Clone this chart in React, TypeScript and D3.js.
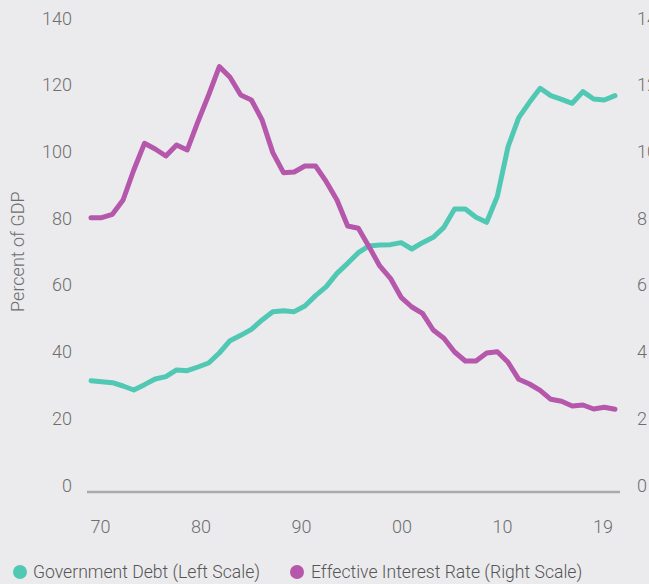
import React from "react";
import * as d3 from "d3";

const years: number[] = d3.range(1970, 2020);

const governmentDebt: number[] = [
  31.3, 31.0, 30.7, 29.7, 28.5, 30.1, 31.8, 32.5, 34.5, 34.3,
  35.4, 36.6, 39.6, 43.3, 44.9, 46.7, 49.5, 52.0, 52.3, 52.0,
  53.7, 56.8, 59.5, 63.5, 66.5, 69.7, 71.7, 72.0, 72.1, 72.7,
  70.8, 72.7, 74.3, 77.3, 82.8, 82.8, 80.3, 78.8, 86.6, 101.5,
  110.2, 114.8, 119.0, 116.8, 115.7, 114.5, 118.0, 115.8, 115.5, 116.8,
];

const effectiveInterestRate: number[] = [
  8.02, 8.02, 8.12, 8.55, 9.45, 10.25, 10.08, 9.87, 10.2, 10.05,
  10.9, 11.7, 12.55, 12.23, 11.7, 11.55, 10.95, 9.97, 9.37, 9.39,
  9.57, 9.57, 9.1, 8.55, 7.77, 7.7, 7.15, 6.57, 6.2, 5.63,
  5.34, 5.15, 4.65, 4.4, 3.99, 3.72, 3.72, 3.96, 4.0, 3.68,
  3.17, 3.03, 2.84, 2.57, 2.51, 2.37, 2.4, 2.28, 2.33, 2.27,
];

const leftTicks: number[] = [0, 20, 40, 60, 80, 100, 120, 140];
const rightTicks: number[] = [0, 2, 4, 6, 8, 10, 12, 14];
const xLabels: string[] = ["70", "80", "90", "00", "10", "19"];

const seriesNames: string[] = [
  "Government Debt (Left Scale)",
  "Effective Interest Rate (Right Scale)",
];
const colors: string[] = ["#50c8b4", "#b557ab"];

const W = 649;
const H = 584;
const FONT = "Roboto, 'DejaVu Sans', sans-serif";
const TEXT = "#6e6e6e";

export default function App() {
  const x = d3.scaleLinear().domain([1970, 2019]).range([91, 615]);
  const yL = d3.scaleLinear().domain([0, 140]).range([485, 18.3]);
  const yR = d3.scaleLinear().domain([0, 14]).range([485, 18.3]);
  const xl = d3.scalePoint<string>().domain(xLabels).range([100.5, 603]);

  const debtLine = d3
    .line<number>()
    .x((_, i) => x(years[i]))
    .y((d) => yL(d));
  const rateLine = d3
    .line<number>()
    .x((_, i) => x(years[i]))
    .y((d) => yR(d));

  return (
    <svg
      width={W}
      height={H}
      style={{ position: "absolute", left: 0, top: 0, background: "#ebebed" }}
      fontFamily={FONT}
    >
      <rect x={0} y={0} width={W} height={H} fill="#ebebed" />
      {leftTicks.map((t) => (
        <text
          key={"l" + t}
          x={72}
          y={yL(t)}
          textAnchor="end"
          dominantBaseline="central"
          fontSize={18}
          fontWeight={300}
          fill={TEXT}
        >
          {t}
        </text>
      ))}
      {rightTicks.map((t) => (
        <text
          key={"r" + t}
          x={637}
          y={yR(t)}
          textAnchor="start"
          dominantBaseline="central"
          fontSize={18}
          fontWeight={300}
          fill={TEXT}
        >
          {t}
        </text>
      ))}
      <text
        transform={`translate(17,${(yL(60) + yL(80)) / 2}) rotate(-90)`}
        textAnchor="middle"
        dominantBaseline="central"
        fontSize={18}
        fontWeight={300}
        fill={TEXT}
      >
        Percent of GDP
      </text>
      <line
        x1={x(1970) - 4}
        x2={x(2019) + 5}
        y1={yL(0) + 7}
        y2={yL(0) + 7}
        stroke="#aaaaaa"
        strokeWidth={2.5}
      />
      {xLabels.map((l) => (
        <text
          key={"x" + l}
          x={xl(l)}
          y={526}
          textAnchor="middle"
          dominantBaseline="central"
          fontSize={18}
          fontWeight={300}
          fill={TEXT}
        >
          {l}
        </text>
      ))}
      <path
        d={debtLine(governmentDebt) || ""}
        fill="none"
        stroke={colors[0]}
        strokeWidth={5}
        strokeLinejoin="round"
        strokeLinecap="round"
      />
      <path
        d={rateLine(effectiveInterestRate) || ""}
        fill="none"
        stroke={colors[1]}
        strokeWidth={5}
        strokeLinejoin="round"
        strokeLinecap="round"
      />
      <g>
        <circle cx={20} cy={572} r={7} fill={colors[0]} />
        <text
          x={33}
          y={572}
          dominantBaseline="central"
          fontSize={17.6}
          fontWeight={300}
          fill="#555"
        >
          {seriesNames[0]}
        </text>
        <circle cx={297} cy={572} r={7} fill={colors[1]} />
        <text
          x={311}
          y={572}
          dominantBaseline="central"
          fontSize={17.6}
          fontWeight={300}
          fill="#555"
        >
          {seriesNames[1]}
        </text>
      </g>
    </svg>
  );
}
